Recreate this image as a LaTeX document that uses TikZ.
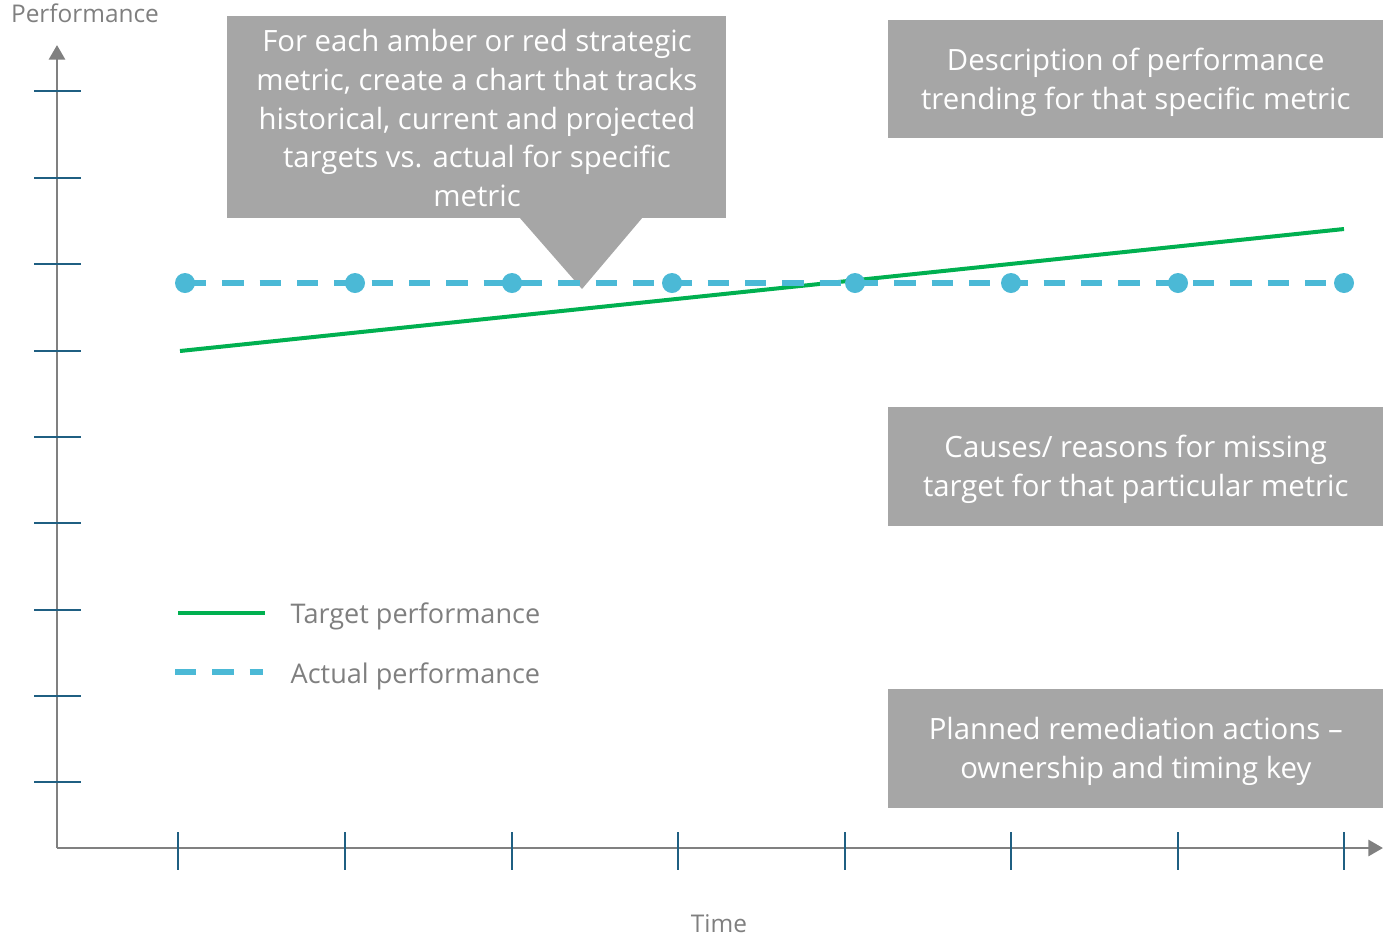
\documentclass[tikz,border=0pt]{standalone}
\usepackage{fontspec}
\setmainfont{Open Sans}
\usetikzlibrary{arrows.meta}
\definecolor{axisgray}{HTML}{808080}
\definecolor{tickblue}{HTML}{1F5F82}
\definecolor{boxgray}{HTML}{A6A6A6}
\definecolor{targetgreen}{HTML}{00B050}
\definecolor{actualblue}{HTML}{4BB9D6}
\definecolor{labelgray}{HTML}{7F7F7F}
\tikzset{
  axisline/.style={draw=axisgray, line width=2.2pt, -{Triangle[length=11pt,width=12pt]}},
  tickmark/.style={draw=tickblue, line width=2.2pt},
  infobox/.style={fill=boxgray, draw=none},
  boxtext/.style={text=white, font=\fontsize{22}{29}\selectfont, align=center},
  axislabel/.style={text=labelgray, font=\fontsize{18.3}{20}\selectfont},
  legendtext/.style={text=labelgray, font=\fontsize{20.3}{23}\selectfont, anchor=west},
  targetline/.style={draw=targetgreen, line width=3pt},
  actualline/.style={draw=actualblue, line width=3.8pt, dash pattern=on 16pt off 12pt},
  datapoint/.style={circle, fill=actualblue, inner sep=0pt, minimum size=15pt}
}
\begin{document}
\begin{tikzpicture}[x=0.75pt,y=-0.75pt]
\useasboundingbox (0,0) rectangle (1383,936);

% axes
\coordinate (origin) at (57,848);
\coordinate (ytip) at (57,45);
\coordinate (xtip) at (1383,848);
\draw[axisline] (origin) -- (ytip);
\draw[axisline] (origin) -- (xtip);

% ticks on the performance axis
\foreach \y in {91,178,264,351,437,523,610,696,782}
  \draw[tickmark] (34,\y) -- (81,\y);
% ticks on the time axis
\foreach \x in {178,345,512,678,845,1011,1178,1344}
  \draw[tickmark] (\x,832) -- (\x,870);

\node[axislabel] (perf) at (85,13) {Performance};
\node[axislabel] (time) at (719,924) {Time};

% callout with its pointer
\fill[boxgray] (227,16) rectangle (726,218);
\fill[boxgray] (519,217) -- (643,217) -- (582,289) -- cycle;
\node[boxtext] (callout) at (477,118) {For each amber or red strategic\\metric, create a chart that tracks\\historical, current and projected\\targets vs. actual for specific\\metric};

% target trend
\coordinate (tstart) at (180,351);
\coordinate (tend) at (1344,229);
\draw[targetline] (tstart) -- (tend);

% actual performance
\foreach \x [count=\i] in {185,355,512,672,855,1011,1178,1344}
  \node[datapoint] (p\i) at (\x,283) {};
\draw[actualline] (p1.center) -- (p8.center);

% commentary boxes
\node[infobox, minimum width=371.25pt, minimum height=88.5pt, anchor=north west, inner sep=0pt] (desc) at (888,20) {};
\node[boxtext] at ([yshift=-2.5pt]desc.center) {Description of performance\\trending for that specific metric};

\node[infobox, minimum width=371.25pt, minimum height=89.25pt, anchor=north west, inner sep=0pt] (causes) at (888,407) {};
\node[boxtext] at ([yshift=-2pt]causes.center) {Causes/ reasons for missing\\target for that particular metric};

\node[infobox, minimum width=371.25pt, minimum height=89.25pt, anchor=north west, inner sep=0pt] (actions) at (888,689) {};
\node[boxtext] at ([yshift=-2pt]actions.center) {Planned remediation actions --\\ownership and timing key};

% legend
\coordinate (lg1a) at (178,613);
\coordinate (lg1b) at (265,613);
\draw[targetline] (lg1a) -- (lg1b);
\node[legendtext] (lgt1) at (286,616) {Target performance};
\coordinate (lg2a) at (175,672);
\coordinate (lg2b) at (263,672);
\draw[actualline] (lg2a) -- (lg2b);
\node[legendtext] (lgt2) at (286,676) {Actual performance};
\end{tikzpicture}
\end{document}
